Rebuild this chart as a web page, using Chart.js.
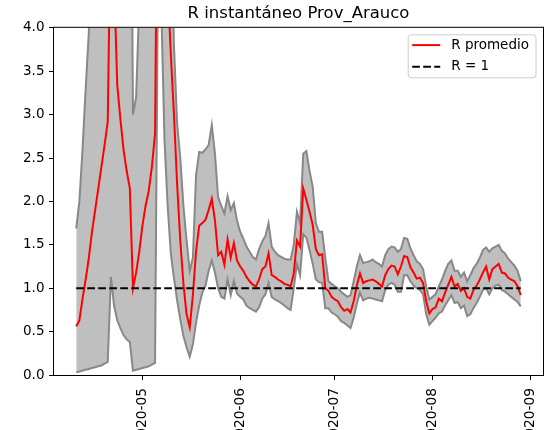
<!DOCTYPE html>
<html>
<head>
<meta charset="utf-8">
<script src="https://cdn.jsdelivr.net/npm/chart.js@4.4.1/dist/chart.umd.min.js"></script>
<style>
html,body{margin:0;padding:0;background:#fff;overflow:hidden;}
canvas{display:block;}
</style>
</head>
<body>
<canvas id="c" width="553" height="430"></canvas>
<script>
// ---- data (one value per day, from 2020-04-10 to 2020-08-29) ----
const firstDay = 9; // days after 2020-04-01  -> 2020-04-10

const rMean = [
  0.56, 0.63, 0.88, 1.10, 1.35, 1.65, 1.90, 2.15, 2.40, 2.65,
  2.92, 5.50, 4.60, 3.35, 2.95, 2.60, 2.35, 2.15, 1.00, 1.18,
  1.42, 1.72, 1.95, 2.12, 2.40, 2.78, 7.00, 7.00, 5.50, 4.50,
  3.70, 3.00, 2.20, 1.55, 1.05, 0.70, 0.55, 0.92, 1.42, 1.72,
  1.75, 1.79, 1.90, 2.03, 1.78, 1.38, 1.42, 1.27, 1.56, 1.35,
  1.52, 1.32, 1.25, 1.20, 1.13, 1.08, 1.04, 1.02, 1.10, 1.22,
  1.25, 1.40, 1.15, 1.13, 1.10, 1.08, 1.05, 1.04, 1.02, 1.17,
  1.55, 1.48, 2.15, 2.02, 1.88, 1.73, 1.45, 1.38, 1.39, 1.00,
  0.97, 0.90, 0.87, 0.85, 0.78, 0.74, 0.76, 0.72, 0.85, 1.03,
  1.17, 1.06, 1.08, 1.09, 1.10, 1.08, 1.05, 1.02, 1.15, 1.22,
  1.26, 1.25, 1.16, 1.25, 1.37, 1.36, 1.24, 1.18, 1.11, 1.12,
  1.06, 0.85, 0.71, 0.76, 0.78, 0.88, 0.85, 0.95, 1.04, 1.13,
  1.02, 1.05, 0.97, 1.00, 0.90, 0.88, 0.98, 1.03, 1.10, 1.18,
  1.25, 1.10, 1.22, 1.25, 1.28, 1.18, 1.17, 1.12, 1.10, 1.08,
  1.02, 0.92
];

const rUpper = [
  1.69, 2.00, 2.60, 3.30, 3.95, 6.0, 8.0, 10.0, 12.0, 14.0,
  16.0, 20.0, 18.0, 15.0, 13.0, 11.0, 10.0, 8.0, 3.00, 3.20,
  4.30, 8.0, 10.0, 12.0, 14.0, 16.0, 20.0, 14.0, 10.0, 8.0,
  5.50, 3.80, 2.90, 2.50, 1.95, 1.55, 1.20, 1.35, 2.30, 2.57,
  2.56, 2.60, 2.65, 2.88, 2.55, 2.05, 1.95, 1.86, 2.06, 1.90,
  1.98, 1.78, 1.65, 1.57, 1.48, 1.42, 1.36, 1.33, 1.45, 1.54,
  1.60, 1.75, 1.48, 1.42, 1.38, 1.36, 1.34, 1.33, 1.33, 1.50,
  1.88, 1.75, 2.55, 2.58, 2.35, 2.17, 1.75, 1.65, 1.65, 1.35,
  1.08, 1.05, 1.02, 1.00, 0.96, 0.93, 0.90, 0.92, 1.08, 1.25,
  1.38, 1.29, 1.30, 1.31, 1.33, 1.30, 1.28, 1.25, 1.38, 1.45,
  1.48, 1.47, 1.42, 1.45, 1.58, 1.57, 1.46, 1.38, 1.31, 1.28,
  1.22, 1.02, 0.87, 0.90, 0.93, 1.02, 1.10, 1.20, 1.28, 1.32,
  1.20, 1.20, 1.13, 1.18, 1.08, 1.15, 1.23, 1.28, 1.35, 1.44,
  1.47, 1.42, 1.46, 1.48, 1.50, 1.43, 1.40, 1.34, 1.30, 1.26,
  1.20, 1.08
];

const rLower = [
  0.03, 0.04, 0.05, 0.06, 0.07, 0.08, 0.09, 0.10, 0.11, 0.13,
  0.15, 1.13, 0.80, 0.63, 0.54, 0.46, 0.41, 0.38, 0.05, 0.06,
  0.07, 0.08, 0.09, 0.10, 0.12, 0.14, 5.00, 4.20, 2.70, 1.95,
  1.40, 1.12, 0.86, 0.64, 0.45, 0.32, 0.21, 0.35, 0.60, 0.80,
  0.95, 1.03, 1.20, 1.32, 1.18, 1.00, 0.90, 0.88, 1.10, 0.92,
  1.08, 0.94, 0.90, 0.87, 0.80, 0.77, 0.75, 0.73, 0.78, 0.88,
  0.93, 1.06, 0.90, 0.87, 0.85, 0.83, 0.80, 0.77, 0.75, 1.00,
  1.28, 1.15, 1.62, 1.58, 1.44, 1.28, 1.10, 1.07, 1.06, 0.77,
  0.77, 0.72, 0.70, 0.67, 0.62, 0.60, 0.57, 0.54, 0.66, 0.82,
  0.95, 0.86, 0.88, 0.89, 0.88, 0.87, 0.86, 0.85, 0.98, 1.04,
  1.06, 1.04, 0.96, 0.96, 1.15, 1.15, 1.08, 1.03, 1.00, 0.98,
  0.93, 0.70, 0.58, 0.62, 0.66, 0.71, 0.73, 0.80, 0.86, 0.92,
  0.83, 0.84, 0.77, 0.80, 0.68, 0.70, 0.77, 0.83, 0.90, 0.98,
  1.00, 0.93, 1.00, 1.03, 1.04, 0.98, 0.96, 0.93, 0.90, 0.87,
  0.84, 0.79
];

const refValue = 1;                 // R = 1
const yTickValues = [0, 0.5, 1, 1.5, 2, 2.5, 3, 3.5, 4];
const xTickDays = [30, 61, 91, 122, 153];   // 1st of May..Sep (days after 2020-04-01)
const xTickLabels = ['2020-05', '2020-06', '2020-07', '2020-08', '2020-09'];
const titleText = 'R instantáneo Prov_Arauco';
const meanLabel = 'R promedio';
const refLabel = 'R = 1';

// ---- build library data ----
const days = rMean.map((_, i) => firstDay + i);
const toPts = arr => arr.map((v, i) => ({ x: days[i], y: v }));
const refPts = [{ x: days[0], y: refValue }, { x: days[days.length - 1], y: refValue }];

const FONT = 'DejaVu Sans';
const DASH = [7.7, 3.3];

const framePlugin = {
  id: 'frame',
  afterDatasetsDraw(chart) {
    const { ctx, chartArea: a } = chart;
    ctx.save();
    ctx.strokeStyle = '#000';
    ctx.lineWidth = 1;
    ctx.strokeRect(a.left - 0.5, a.top - 0.5, a.right - a.left + 1, a.bottom - a.top + 1);
    ctx.restore();
  }
};

const legendPlugin = {
  id: 'mplLegend',
  afterDraw(chart) {
    const { ctx, chartArea: a } = chart;
    const items = [chart.data.datasets[1], chart.data.datasets[0]];
    const fs = 13.5;
    ctx.save();
    ctx.font = fs + 'px "' + FONT + '"';
    const pad = 5.5, handle = 28, gap = 11, rowH = 21.7;
    const textW = Math.max(...items.map(d => ctx.measureText(d.label).width));
    const w = pad + handle + gap + textW + pad;
    const h = 43;
    const right = a.right - 7, top = a.top + 7;
    const left = right - w;
    const r = 3;
    ctx.beginPath();
    ctx.moveTo(left + r, top);
    ctx.lineTo(right - r, top);
    ctx.arcTo(right, top, right, top + r, r);
    ctx.lineTo(right, top + h - r);
    ctx.arcTo(right, top + h, right - r, top + h, r);
    ctx.lineTo(left + r, top + h);
    ctx.arcTo(left, top + h, left, top + h - r, r);
    ctx.lineTo(left, top + r);
    ctx.arcTo(left, top, left + r, top, r);
    ctx.closePath();
    ctx.fillStyle = 'rgba(255,255,255,0.8)';
    ctx.fill();
    ctx.strokeStyle = '#cccccc';
    ctx.lineWidth = 1;
    ctx.stroke();
    items.forEach((d, i) => {
      const cy = top + 10.3 + i * rowH;
      ctx.beginPath();
      ctx.setLineDash(d.borderDash || []);
      ctx.strokeStyle = d.borderColor;
      ctx.lineWidth = d.borderWidth;
      ctx.moveTo(left + pad - 1.5, cy);
      ctx.lineTo(left + pad - 1.5 + handle, cy);
      ctx.stroke();
      ctx.setLineDash([]);
      ctx.fillStyle = '#000';
      ctx.textBaseline = 'middle';
      ctx.textAlign = 'left';
      ctx.fillText(d.label, left + pad + handle + gap - 1.5, cy);
    });
    ctx.restore();
  }
};

new Chart(document.getElementById('c'), {
  type: 'line',
  data: {
    datasets: [
      { label: refLabel, data: refPts, borderColor: '#000000', borderWidth: 2, borderDash: DASH,
        pointRadius: 0, fill: false, order: 0, clip: 0 },
      { label: meanLabel, data: toPts(rMean), borderColor: '#ff0000', borderWidth: 2,
        pointRadius: 0, fill: false, order: 1, clip: 0 },
      { label: 'lower', data: toPts(rLower), borderColor: '#888888', borderWidth: 2,
        pointRadius: 0, fill: false, order: 2, clip: 0 },
      { label: 'upper', data: toPts(rUpper), borderColor: '#888888', borderWidth: 2,
        pointRadius: 0, fill: '-1', backgroundColor: '#bfbfbf', order: 3, clip: 0 }
    ]
  },
  options: {
    responsive: false,
    animation: false,
    devicePixelRatio: 1,
    events: [],
    layout: { padding: { top: 0, right: 10, bottom: 0, left: 0 } },
    elements: { line: { tension: 0 }, point: { radius: 0 } },
    plugins: {
      legend: { display: false },
      tooltip: { enabled: false },
      filler: { drawTime: 'beforeDatasetsDraw' },
      title: {
        display: true, text: titleText, fullSize: false,
        color: '#000', font: { family: FONT, size: 16.5, weight: 'normal', lineHeight: 1.2 },
        padding: { top: 4, bottom: 4 }
      }
    },
    scales: {
      x: {
        type: 'linear', min: 1.95, max: 157.05,
        afterBuildTicks: s => { s.ticks = xTickDays.map(v => ({ value: v })); },
        afterFit: s => { s.height = 55; s.paddingLeft = 0; s.paddingRight = 0; },
        ticks: {
          autoSkip: false, minRotation: 90, maxRotation: 90, padding: 8,
          color: '#000', font: { family: FONT, size: 13.8 },
          callback: (v, i) => xTickLabels[i]
        },
        grid: { display: true, drawOnChartArea: false, drawTicks: true, tickLength: 5, color: '#000', lineWidth: 1 },
        border: { display: false }
      },
      y: {
        type: 'linear', min: 0, max: 4,
        afterBuildTicks: s => { s.ticks = yTickValues.map(v => ({ value: v })); },
        afterFit: s => { s.width = 54; s.paddingTop = 0; s.paddingBottom = 0; },
        ticks: {
          padding: 4.5, color: '#000', font: { family: FONT, size: 13.5 },
          callback: v => Number(v).toFixed(1)
        },
        grid: { display: true, drawOnChartArea: false, drawTicks: true, tickLength: 5, color: '#000', lineWidth: 1 },
        border: { display: false }
      }
    }
  },
  plugins: [framePlugin, legendPlugin]
});
</script>
</body>
</html>
